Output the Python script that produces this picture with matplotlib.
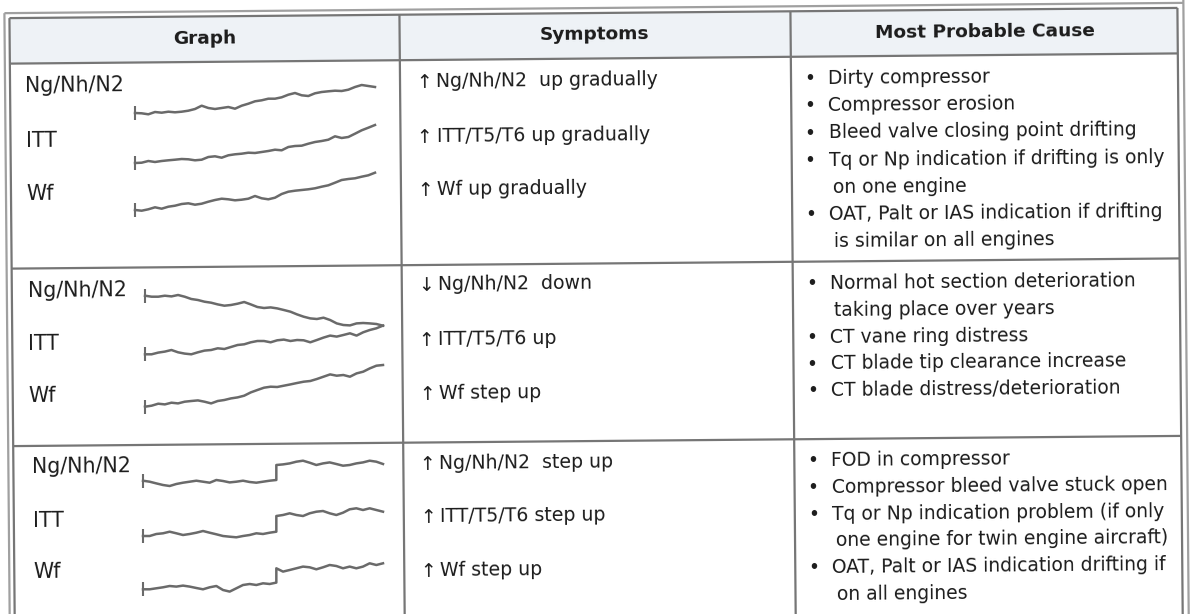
import matplotlib.pyplot as plt
import numpy as np
from matplotlib.transforms import Affine2D
from matplotlib.patches import Rectangle

W, H = 1195, 614

headers = ["Graph", "Symptoms", "Most Probable Cause"]
params = ["Ng/Nh/N2", "ITT", "Wf"]

symptoms = [
    [("↑", "Ng/Nh/N2  up gradually"), ("↑", "ITT/T5/T6 up gradually"), ("↑", "Wf up gradually")],
    [("↓", "Ng/Nh/N2  down"), ("↑", "ITT/T5/T6 up"), ("↑", "Wf step up")],
    [("↑", "Ng/Nh/N2  step up"), ("↑", "ITT/T5/T6 step up"), ("↑", "Wf step up")],
]

causes = [
    [["Dirty compressor"], ["Compressor erosion"], ["Bleed valve closing point drifting"],
     ["Tq or Np indication if drifting is only", "on one engine"],
     ["OAT, Palt or IAS indication if drifting", "is similar on all engines"]],
    [["Normal hot section deterioration", "taking place over years"], ["CT vane ring distress"],
     ["CT blade tip clearance increase"], ["CT blade distress/deterioration"]],
    [["FOD in compressor"], ["Compressor bleed valve stuck open"],
     ["Tq or Np indication problem (if only", "one engine for twin engine aircraft)"],
     ["OAT, Palt or IAS indication drifting if", "on all engines"]],
]

# trend traces (rise), sample index as time
t_smooth = np.arange(37)
t_step = np.r_[np.arange(21), np.arange(20, 37)]

gradual_ng = [0, -0.3, -1.3, 1, 0.3, 1.3, 0.7, 1.3, 2.3, 4, 7.3, 5, 4, 5, 6, 4.3, 7.3, 9.3, 11.7, 12.7,
              14.3, 14.3, 15.7, 18.3, 20, 17.7, 17, 19.7, 21, 21.7, 22.3, 22, 23.3, 26, 28, 27, 26]
gradual_itt = [0, 0.3, 2, 1, 2, 2.7, 3.3, 4, 3.7, 2.7, 3.3, 6, 6.7, 5.3, 7.7, 8.7, 9.3, 10.3, 10, 11,
               12, 13.3, 12.7, 16, 17, 17.3, 19.3, 21, 22, 23.3, 26.7, 25, 26, 29.3, 32.7, 35.3, 38]
gradual_wf = [0, -0.7, 0.7, 2.7, 1.3, 3.3, 4.3, 6, 6.7, 5.3, 6.3, 8.3, 10, 11.3, 10.7, 9.7, 10.3, 11.3, 14, 11.7,
              10.7, 12.3, 16, 18.3, 19.3, 20, 20.7, 21.7, 23.3, 24.7, 27.3, 30, 31, 31.7, 33.3, 34.7, 37.3]

hot_ng = [0, -1, -1, 0, -0.7, 0.7, -1, -3.3, -4.3, -6, -7, -8.7, -10, -9.3, -8, -6.3, -8.7, -11.3, -12.3, -11.7,
          -12.7, -14.3, -16, -18.7, -21, -22.7, -23.3, -22, -24.3, -27.7, -29.3, -29.7, -27.7, -27.3, -27.7, -28.3, -30]
hot_itt = [0, 0, 1.7, 2.7, 4.3, 2, 0.7, 0, 2, 3.7, 4.3, 6, 5.3, 7.3, 9.3, 10, 12, 13.3, 13.3, 12,
           14, 14.7, 13.3, 14.3, 14, 12, 14.3, 16.7, 18.7, 17.7, 19.3, 21, 18.7, 22, 24.3, 26, 28.7]
hot_wf = [0, 1, 3, 2.3, 4, 3.3, 5, 5.7, 6.3, 5, 3.3, 5.7, 6.7, 8.3, 9.3, 11, 14.3, 16.7, 19, 20,
          19.7, 21, 22.3, 23.7, 25, 25.7, 27.7, 30, 32.3, 31, 31.7, 30, 33.3, 35, 38.3, 41, 41.7]

step_ng = [0, -1, -2.7, -4.3, -5.3, -3.3, -2, -1, 0, -1, -2, 0.7, -0.3, -1.7, -1, 0, -1.3, -2, -1, 0, 0.7,
           15.7, 16.3, 17.3, 19, 20, 18, 15.7, 17.3, 18.3, 16.7, 15, 15.7, 17.3, 18.3, 20, 19, 16.7]
step_itt = [0, 0, 2, 2.7, 4.3, 2.7, 1, 2, 3.3, 5, 3.3, 1.7, 0, -0.7, -1.3, 0, 1, 2.7, 2, 3.3, 4.3,
            20, 21, 22.7, 21, 20, 22.7, 24.3, 25, 22.7, 21, 23.3, 26.7, 27.7, 26, 27.7, 26, 24.3]
step_wf = [0, 0, 1, 2, 3.3, 2.7, 3.7, 2.7, 1.3, 0, 2, 3.3, -0.7, -2.3, 1, 4.3, 5.3, 4.3, 6, 5.3, 6.7,
           21, 17.7, 19.3, 21, 22.7, 22, 20, 22, 24.3, 23.3, 21, 22.7, 21, 22.7, 26, 24.3, 26]

traces = [
    (t_smooth, [gradual_ng, gradual_itt, gradual_wf]),
    (t_smooth, [hot_ng, hot_itt, hot_wf]),
    (t_step, [step_ng, step_itt, step_wf]),
]

fig = plt.figure(figsize=(W / 100, H / 100), dpi=100, facecolor="white")
ax = fig.add_axes([0, 0, 1, 1])
ax.set_xlim(0, W)
ax.set_ylim(H, 0)
ax.axis("off")

# the scan is tilted a little
rot = Affine2D().rotate_deg_around(597, 307, -0.5) + ax.transData
txt_col = "#1c1c1c"


def line(x0, y0, x1, y1, c="#767676", lw=1.6):
    ax.plot([x0, x1], [y0, y1], color=c, lw=lw, transform=rot, solid_capstyle="butt")


def txt(x, y, s, **kw):
    ax.text(x, y, s, transform=rot, rotation=0.5, rotation_mode="anchor",
            va="baseline", color=txt_col, **kw)


# header band
ax.add_patch(Rectangle((12, 13), 1168, 45.5, facecolor="#eef2f6", edgecolor="none", transform=rot))

# frame
line(7, 8, 1186, 8, c="#a0a0a0")
line(7, 8, 7, 640, c="#a0a0a0")
line(1186, 0, 1186, 640, c="#a0a0a0")
line(12, 13, 1180, 13)
line(12, 13, 12, 640)
line(1180, 13, 1180, 640)
line(12, 58.5, 1180, 58.5)
line(12, 263.5, 1180, 263.5)
line(12, 441, 1180, 441)
line(402, 13, 402, 640)
line(793, 13, 793, 640)

for x, s in zip([207, 597, 987], headers):
    txt(x, 40, s, ha="center", fontsize=13.3, fontweight="bold")

label_x = [27, 28, 31]
label_y = [[87.5, 142.5, 195.5], [292, 345, 397.5], [468.5, 522, 573.5]]
symp_y = [[86, 141, 194], [289, 344, 398], [468, 521, 575]]
for r in range(3):
    for k in range(3):
        txt(label_x[r], label_y[r][k], params[k], fontsize=14.8)
        arrow, s = symptoms[r][k]
        txt(418, symp_y[r][k], arrow, fontsize=13.5)
        txt(438, symp_y[r][k], s, fontsize=13.6)

cause_top = [86, 291, 468]
cause_step = [27.2, 26.8, 26.8]
for r in range(3):
    n = 0
    for item in causes[r]:
        for j, s in enumerate(item):
            y = cause_top[r] + n * cause_step[r]
            if j == 0:
                txt(806, y, "•", fontsize=13.5)
                txt(830, y, s, fontsize=13.5)
            else:
                txt(834, y, s, fontsize=13.5)
            n += 1

# sparklines
span = [(135, 375), (145, 383), (143, 383)]
starts = [[113, 163, 210], [295.7, 354.3, 406.7], [480.7, 536, 589.3]]
lo, hi = 15, 50
for r in range(3):
    t, series = traces[r]
    x0, x1 = span[r]
    for k in range(3):
        ys = starts[r][k]
        sa = fig.add_axes([x0 / W, 1 - (ys + lo) / H, (x1 - x0) / W, (hi + lo) / H])
        sa.set_xlim(0, 36)
        sa.set_ylim(-lo, hi)
        sa.axis("off")
        sa.patch.set_alpha(0)
        sa.plot(t, series[k], color="#6a6a6a", lw=1.8, clip_on=False,
                marker="|", markevery=[0], markersize=9.5, markeredgewidth=1.5)

fig.savefig("out.png", dpi=100, facecolor="white")
